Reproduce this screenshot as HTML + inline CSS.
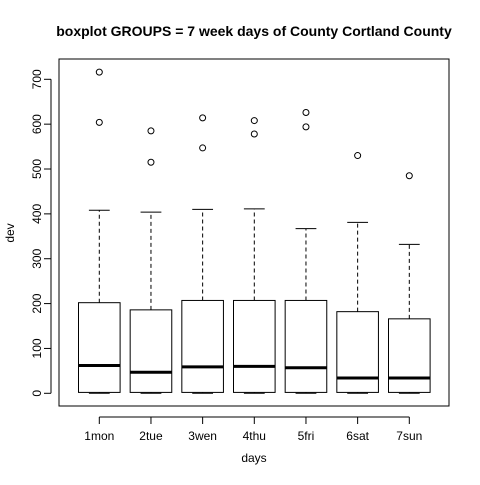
<!DOCTYPE html>
<html><head><meta charset="utf-8"><style>
body{margin:0;background:#fff}
svg text{font-family:"Liberation Sans",sans-serif}
</style></head><body>
<svg id="c" width="480" height="480" xmlns="http://www.w3.org/2000/svg">
<text x="254" y="36" text-anchor="middle" font-size="14" font-weight="bold">boxplot GROUPS = 7 week days of County Cortland County</text>
<rect x="59" y="59" width="390" height="347" fill="none" stroke="#000"/>
<text x="254" y="462" text-anchor="middle" font-size="12">days</text>
<text transform="translate(14,233) rotate(-90)" text-anchor="middle" font-size="12">dev</text>
<g id="g"></g>
</svg>
<script>
const categories=["1mon","2tue","3wen","4thu","5fri","6sat","7sun"];
const mins=[0,0,0,0,0,0,0];
const q1s=[2,2,2,2,2,2,2];
const medians=[62,47,59,60,57,34,34];
const q3s=[202,186,207,207,207,182,166];
const maxs=[408,404,410,411,367,381,332];
const outliers=[[716,604],[585,515],[614,547],[608,578],[626,594],[530],[485]];
const yTicks=[0,100,200,300,400,500,600,700];
const NS="http://www.w3.org/2000/svg";
const g=document.getElementById('g');
const y=v=>393.3-v*(314/700);
const x=i=>99.3+i*(310/6);
function mk(t,a){const e=document.createElementNS(NS,t);for(const k in a)e.setAttribute(k,a[k]);g.appendChild(e);return e;}
let e=mk('line',{x1:51,x2:51,y1:y(0),y2:y(700),stroke:'#000'});


yTicks.forEach(v=>{
 let t=mk('line',{x1:44,x2:51,y1:y(v),y2:y(v),stroke:'#000'});
 
 
 let l=mk('text',{transform:`translate(41,${y(v)}) rotate(-90)`,'text-anchor':'middle','font-size':12});
 l.textContent=v;
 
 
});
e=mk('line',{x1:x(0),x2:x(6),y1:417,y2:417,stroke:'#000'});


const hw=20.8;
categories.forEach((c,i)=>{
 const cx=x(i);
 let t=mk('line',{x1:cx,x2:cx,y1:417,y2:424,stroke:'#000'});
 
 
 let l=mk('text',{x:cx,y:440,'text-anchor':'middle','font-size':12});
 l.textContent=c;
 
 
 let w=mk('line',{x1:cx,x2:cx,y1:y(q3s[i]),y2:y(maxs[i]),stroke:'#000','stroke-dasharray':'4,3'});
 
 
 let cap=mk('line',{x1:cx-hw/2,x2:cx+hw/2,y1:y(maxs[i]),y2:y(maxs[i]),stroke:'#000'});
 
 
 let w2=mk('line',{x1:cx,x2:cx,y1:y(q1s[i]),y2:y(mins[i]),stroke:'#000','stroke-dasharray':'4,3'});
 
 
 let cap2=mk('line',{x1:cx-hw/2,x2:cx+hw/2,y1:y(mins[i]),y2:y(mins[i]),stroke:'#000'});
 
 
 let b=mk('rect',{x:cx-hw,y:y(q3s[i]),width:2*hw,height:y(q1s[i])-y(q3s[i]),fill:'#fff',stroke:'#000'});
 
 
 let m=mk('line',{x1:cx-hw,x2:cx+hw,y1:y(medians[i]),y2:y(medians[i]),stroke:'#000','stroke-width':3});
 
 
 outliers[i].forEach(v=>{
  let o=mk('circle',{cx:cx,cy:y(v),r:3,fill:'none',stroke:'#000'});
  
  
 });
});
</script>
</body></html>
